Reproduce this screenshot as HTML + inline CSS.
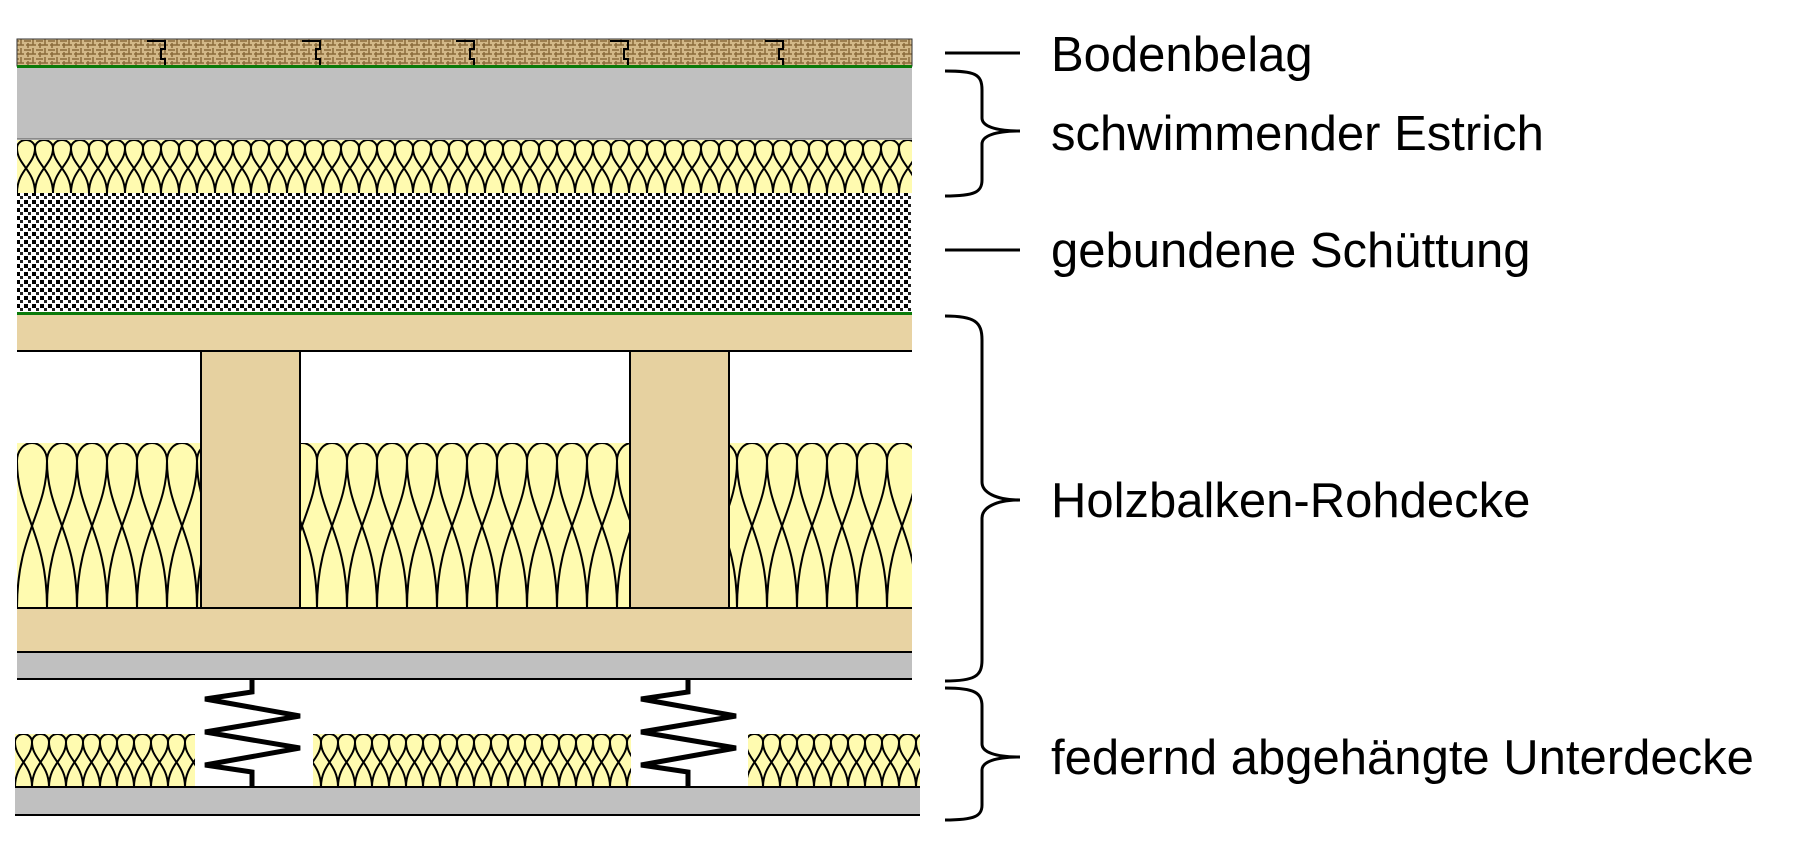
<!DOCTYPE html>
<html><head><meta charset="utf-8"><style>
html,body{margin:0;padding:0;background:#fff;width:1795px;height:863px;overflow:hidden}
svg{display:block}
text{font-family:"Liberation Sans",Arial,sans-serif;font-size:49px;fill:#000}
</style></head><body>
<svg width="1795" height="863" viewBox="0 0 1795 863" xmlns="http://www.w3.org/2000/svg">
<defs>
<pattern id="ins1" x="17" y="140" width="18" height="53" patternUnits="userSpaceOnUse">
<rect width="18" height="53" fill="#fffbb0"/>
<path d="M0,53 C0,30 18,25 18,8 A9,8 0 0 0 0,8 C0,25 18,30 18,53" fill="none" stroke="#000" stroke-width="2"/>
</pattern>
<pattern id="ins2" x="17" y="443" width="30" height="165" patternUnits="userSpaceOnUse">
<rect width="30" height="165" fill="#fffbb0"/>
<path d="M0,165 C0,90 30,70 30,18 A15,18 0 0 0 0,18 C0,70 30,90 30,165" fill="none" stroke="#000" stroke-width="2"/>
</pattern>
<pattern id="ins3" x="15" y="734" width="17" height="53" patternUnits="userSpaceOnUse">
<rect width="17" height="53" fill="#fffbb0"/>
<path d="M0,53 C0,30 17,25 17,8 A8.5,8 0 0 0 0,8 C0,25 17,30 17,53" fill="none" stroke="#000" stroke-width="2"/>
</pattern>
<pattern id="dots" x="0" y="0" width="8" height="8" patternUnits="userSpaceOnUse">
<rect width="8" height="8" fill="#fff"/>
<rect x="0" y="0" width="4" height="4" fill="#000"/>
<rect x="4" y="4" width="3" height="3" fill="#222"/>
</pattern>
<pattern id="floor" x="0" y="39" width="12" height="9" patternUnits="userSpaceOnUse">
<rect width="12" height="9" fill="#d2b888"/>
<path d="M0,2 H7 M9,0 V6 M2,6 H12 M4,4 V9" stroke="#8a6a3a" stroke-width="1.5"/>
</pattern>
</defs>

<rect x="17" y="39" width="895" height="27" fill="url(#floor)" stroke="#333" stroke-width="1"/>
<g fill="none" stroke="#000" stroke-width="2">
<path d="M147,41 h18 v8 h-4 v10 h4 v7"/><path d="M302,41 h18 v8 h-4 v10 h4 v7"/>
<path d="M456,41 h18 v8 h-4 v10 h4 v7"/><path d="M610,41 h18 v8 h-4 v10 h4 v7"/>
<path d="M765,41 h18 v8 h-4 v10 h4 v7"/>
</g>
<rect x="17" y="65" width="895" height="3" fill="#0a7a0a"/>
<rect x="17" y="68" width="895" height="71" fill="#c0c0c0"/>
<line x1="17" y1="139" x2="912" y2="139" stroke="#555" stroke-width="1"/>
<rect x="17" y="140" width="895" height="53" fill="url(#ins1)"/>
<rect x="17" y="193" width="895" height="120" fill="url(#dots)"/>
<rect x="17" y="312" width="895" height="3" fill="#0a7a0a"/>
<rect x="17" y="315" width="895" height="36" fill="#e8d3a3"/>
<line x1="17" y1="351" x2="912" y2="351" stroke="#000" stroke-width="2"/>
<rect x="17" y="443" width="895" height="165" fill="url(#ins2)"/>
<rect x="201" y="351" width="99" height="257" fill="#e6d1a0" stroke="#000" stroke-width="2"/>
<rect x="630" y="351" width="99" height="257" fill="#e6d1a0" stroke="#000" stroke-width="2"/>
<rect x="17" y="608" width="895" height="44" fill="#e8d3a3"/>
<line x1="17" y1="608" x2="912" y2="608" stroke="#000" stroke-width="2"/>
<line x1="17" y1="652" x2="912" y2="652" stroke="#000" stroke-width="2"/>
<rect x="17" y="653" width="895" height="25" fill="#c0c0c0"/>
<line x1="17" y1="679" x2="912" y2="679" stroke="#000" stroke-width="2"/>
<rect x="15" y="734" width="180" height="53" fill="url(#ins3)"/>
<rect x="313" y="734" width="318" height="53" fill="url(#ins3)"/>
<rect x="748" y="734" width="172" height="53" fill="url(#ins3)"/>
<g fill="none" stroke="#000" stroke-width="5" stroke-linejoin="miter">
<path d="M252,679 V692 L205,699 L300,716 L205,732 L300,748 L205,765 L252,772 V787"/>
<path d="M688,679 V692 L641,699 L736,716 L641,732 L736,748 L641,765 L688,772 V787"/>
</g>
<line x1="15" y1="787" x2="920" y2="787" stroke="#000" stroke-width="2"/>
<rect x="15" y="788" width="905" height="26" fill="#c0c0c0"/>
<line x1="15" y1="815" x2="920" y2="815" stroke="#000" stroke-width="2"/>

<g fill="none" stroke="#000" stroke-width="3">
<line x1="945" y1="53" x2="1020" y2="53"/>
<line x1="945" y1="250" x2="1020" y2="250"/>
<path d="M945,71 C975,71 982,74 982,90 V118 C982,126 995,131 1020,131 C995,131 982,136 982,144 V180 C982,192 975,196 945,196"/>
<path d="M945,316 C975,316 982,322 982,340 V482 C982,492 995,500 1020,500 C995,500 982,508 982,518 V660 C982,676 975,681 945,681"/>
<path d="M945,688 C975,688 982,693 982,706 V744 C982,752 995,757 1020,757 C995,757 982,762 982,770 V805 C982,816 975,820 945,820"/>
</g>
<text x="1051" y="71">Bodenbelag</text>
<text x="1051" y="150">schwimmender Estrich</text>
<text x="1051" y="267">gebundene Schüttung</text>
<text x="1051" y="517">Holzbalken-Rohdecke</text>
<text x="1051" y="774">federnd abgehängte Unterdecke</text>
</svg>
</body></html>
